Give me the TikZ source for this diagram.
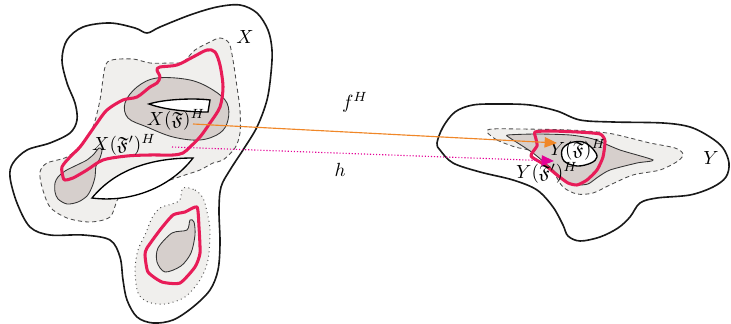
\documentclass[tikz,border=0pt]{standalone}
\usepackage{amsmath,amssymb,amsfonts}
\usepackage{xcolor}
\usepackage{tikz}
\usetikzlibrary{arrows.meta}

\definecolor{hullgray}{RGB}{240,239,237}
\definecolor{coregray}{RGB}{214,207,204}
\definecolor{setred}{RGB}{232,28,88}
\definecolor{maporange}{RGB}{240,135,40}
\definecolor{mapmagenta}{RGB}{228,0,150}

\begin{document}
\begin{tikzpicture}[
    x=0.525pt, y=-0.525pt,
    space/.style={draw=black!90, line width=0.85pt, fill=white},
    hull/.style={draw=black!70, line width=0.45pt, dash pattern=on 2.2pt off 1.6pt, fill=hullgray},
    dothull/.style={draw=black!70, line width=0.5pt, dash pattern=on 0.5pt off 1.8pt, fill=hullgray},
    core/.style={draw=black!80, line width=0.45pt, fill=coregray},
    hole/.style={draw=black, line width=0.7pt, fill=white},
    redset/.style={draw=setred, line width=1.6pt, line join=round},
    fmap/.style={draw=maporange, line width=0.6pt, -{Triangle[length=6.5pt,width=5.5pt]}},
    hmap/.style={draw=mapmagenta, line width=0.6pt, densely dotted, -{Triangle[length=6.5pt,width=5.5pt]}}
]
\useasboundingbox (0,0) rectangle (731,324);

% space X
\path[space] plot[smooth cycle, tension=0.55] coordinates {(147,33) (160,27) (190,15) (217,7) (240,5) (257,13) (268,30) (272,50) (271,73) (267,100) (257,127) (243,150) (230,170) (221,187) (219,210) (220,243) (218,270) (210,290) (193,307) (173,320) (153,323) (137,317) (127,300) (123,280) (120,257) (110,240) (83,235) (50,235) (30,227) (17,203) (10,177) (13,163) (27,150) (50,143) (70,133) (77,120) (75,103) (67,83) (62,60) (67,40) (83,27) (110,23) (135,28)};

% hulls in X
\path[hull] plot[smooth cycle, tension=0.5] coordinates {(105,67) (112,60) (133,59) (150,63) (170,63) (183,62) (195,50) (210,42) (220,38) (229,43) (233,60) (237,87) (240,110) (240,133) (235,148) (223,160) (213,163) (200,170) (185,175) (170,180) (150,186) (130,192) (118,199) (110,217) (90,222) (67,218) (50,207) (42,187) (40,172) (47,163) (67,157) (83,143) (93,127) (100,100)};
\path[dothull] plot[smooth cycle, tension=0.5] coordinates {(183,188) (195,190) (203,198) (207,212) (210,230) (208,260) (200,280) (185,297) (165,304) (148,302) (138,293) (135,270) (138,250) (145,235) (152,218) (160,208) (172,204) (180,200)};

% cores in X
\path[core] plot[smooth cycle, tension=0.6] coordinates {(125,103) (137,87) (157,78) (190,80) (213,90) (227,103) (228,120) (220,133) (200,140) (173,137) (147,127) (128,118)};
\path[core] plot[smooth cycle, tension=0.5] coordinates {(55,183) (58,177) (65,171) (77,165) (87,160) (94,154) (99,148) (102,150) (100,158) (96,166) (95,177) (92,187) (87,196) (78,202) (67,204) (58,199) (55,192)};
\path[core] plot[smooth cycle, tension=0.5] coordinates {(158,248) (172,233) (187,230) (190,220) (194,222) (195,235) (191,253) (181,266) (165,272) (157,262)};

% holes in X
\path[hole] (149,104) .. controls (165,99) and (195,98) .. (210,100) -- (208,112) .. controls (190,112) and (165,110) .. (149,104) -- cycle;
\path[hole] (92,198) .. controls (115,170) and (150,158) .. (193,158) .. controls (170,188) and (130,203) .. (92,198) -- cycle;

% red sets in X
\draw[redset] plot[smooth cycle, tension=0.5] coordinates {(63,177) (62,167) (70,157) (80,147) (90,133) (97,123) (107,110) (123,100) (137,97) (150,87) (157,83) (160,77) (157,70) (160,67) (177,65) (193,57) (207,50) (215,52) (220,65) (223,87) (220,107) (210,123) (200,137) (190,147) (183,153) (173,155) (150,155) (127,156) (103,160) (87,170) (73,178) (65,180)};
\draw[redset] plot[smooth cycle, tension=0.35] coordinates {(147,248) (160,230) (173,215) (185,212) (197,207) (199,227) (200,253) (195,267) (180,283) (162,282) (148,272) (145,255)};

% space Y
\path[space] plot[smooth cycle, tension=0.55] coordinates {(437,143) (443,127) (455,112) (473,105) (500,104) (530,105) (557,111) (580,120) (613,122) (663,123) (690,127) (710,137) (723,148) (729,163) (726,177) (713,187) (690,195) (657,198) (640,203) (630,217) (618,228) (600,237) (580,241) (568,236) (563,225) (553,207) (537,190) (513,180) (480,172) (453,163) (440,150)};
\path[hull] plot[smooth cycle, tension=0.5] coordinates {(487,132) (497,140) (515,147) (533,152) (553,172) (563,187) (577,194) (593,193) (610,185) (633,175) (660,170) (678,161) (683,154) (675,148) (650,143) (630,138) (607,133) (570,130) (520,129) (492,129)};
\path[core] plot[smooth cycle, tension=0.4] coordinates {(508,135) (537,134) (570,135) (593,139) (620,150) (653,160) (637,163) (610,170) (598,177) (588,184) (575,185) (563,180) (553,170) (533,153) (510,138)};
\path[hole] plot[smooth cycle, tension=0.6] coordinates {(562,150) (570,143) (583,142) (593,149) (597,157) (591,163) (577,166) (564,161)};
\draw[redset] plot[smooth cycle, tension=0.35] coordinates {(535,132) (550,131) (577,132) (600,134) (605,141) (603,157) (597,170) (587,180) (577,185) (568,183) (557,175) (545,165) (531,156) (537,146) (536,139)};

% labels
\node (lx) at (245,37) {$X$};
\node (ly) at (711,158) {$Y$};
\node (xf) at (176,120) {$X(\mathfrak{F})^H$};
\node (xfp) at (124,145) {$X(\mathfrak{F}')^H$};
\node (yf) at (578,150) {$Y(\mathfrak{F})^H$};
\node (yfp) at (547,173) {$Y(\mathfrak{F}')^H$};
\node (lf) at (355,102) {$f^H$};
\node (lh) at (340,170) {$h$};

% maps
\coordinate (fs) at (193,124);
\coordinate (fe) at (557,143);
\coordinate (hs) at (172,147);
\coordinate (he) at (554,161);
\draw[fmap] (fs) -- (fe);
\draw[hmap] (hs) -- (he);

\end{tikzpicture}
\end{document}
